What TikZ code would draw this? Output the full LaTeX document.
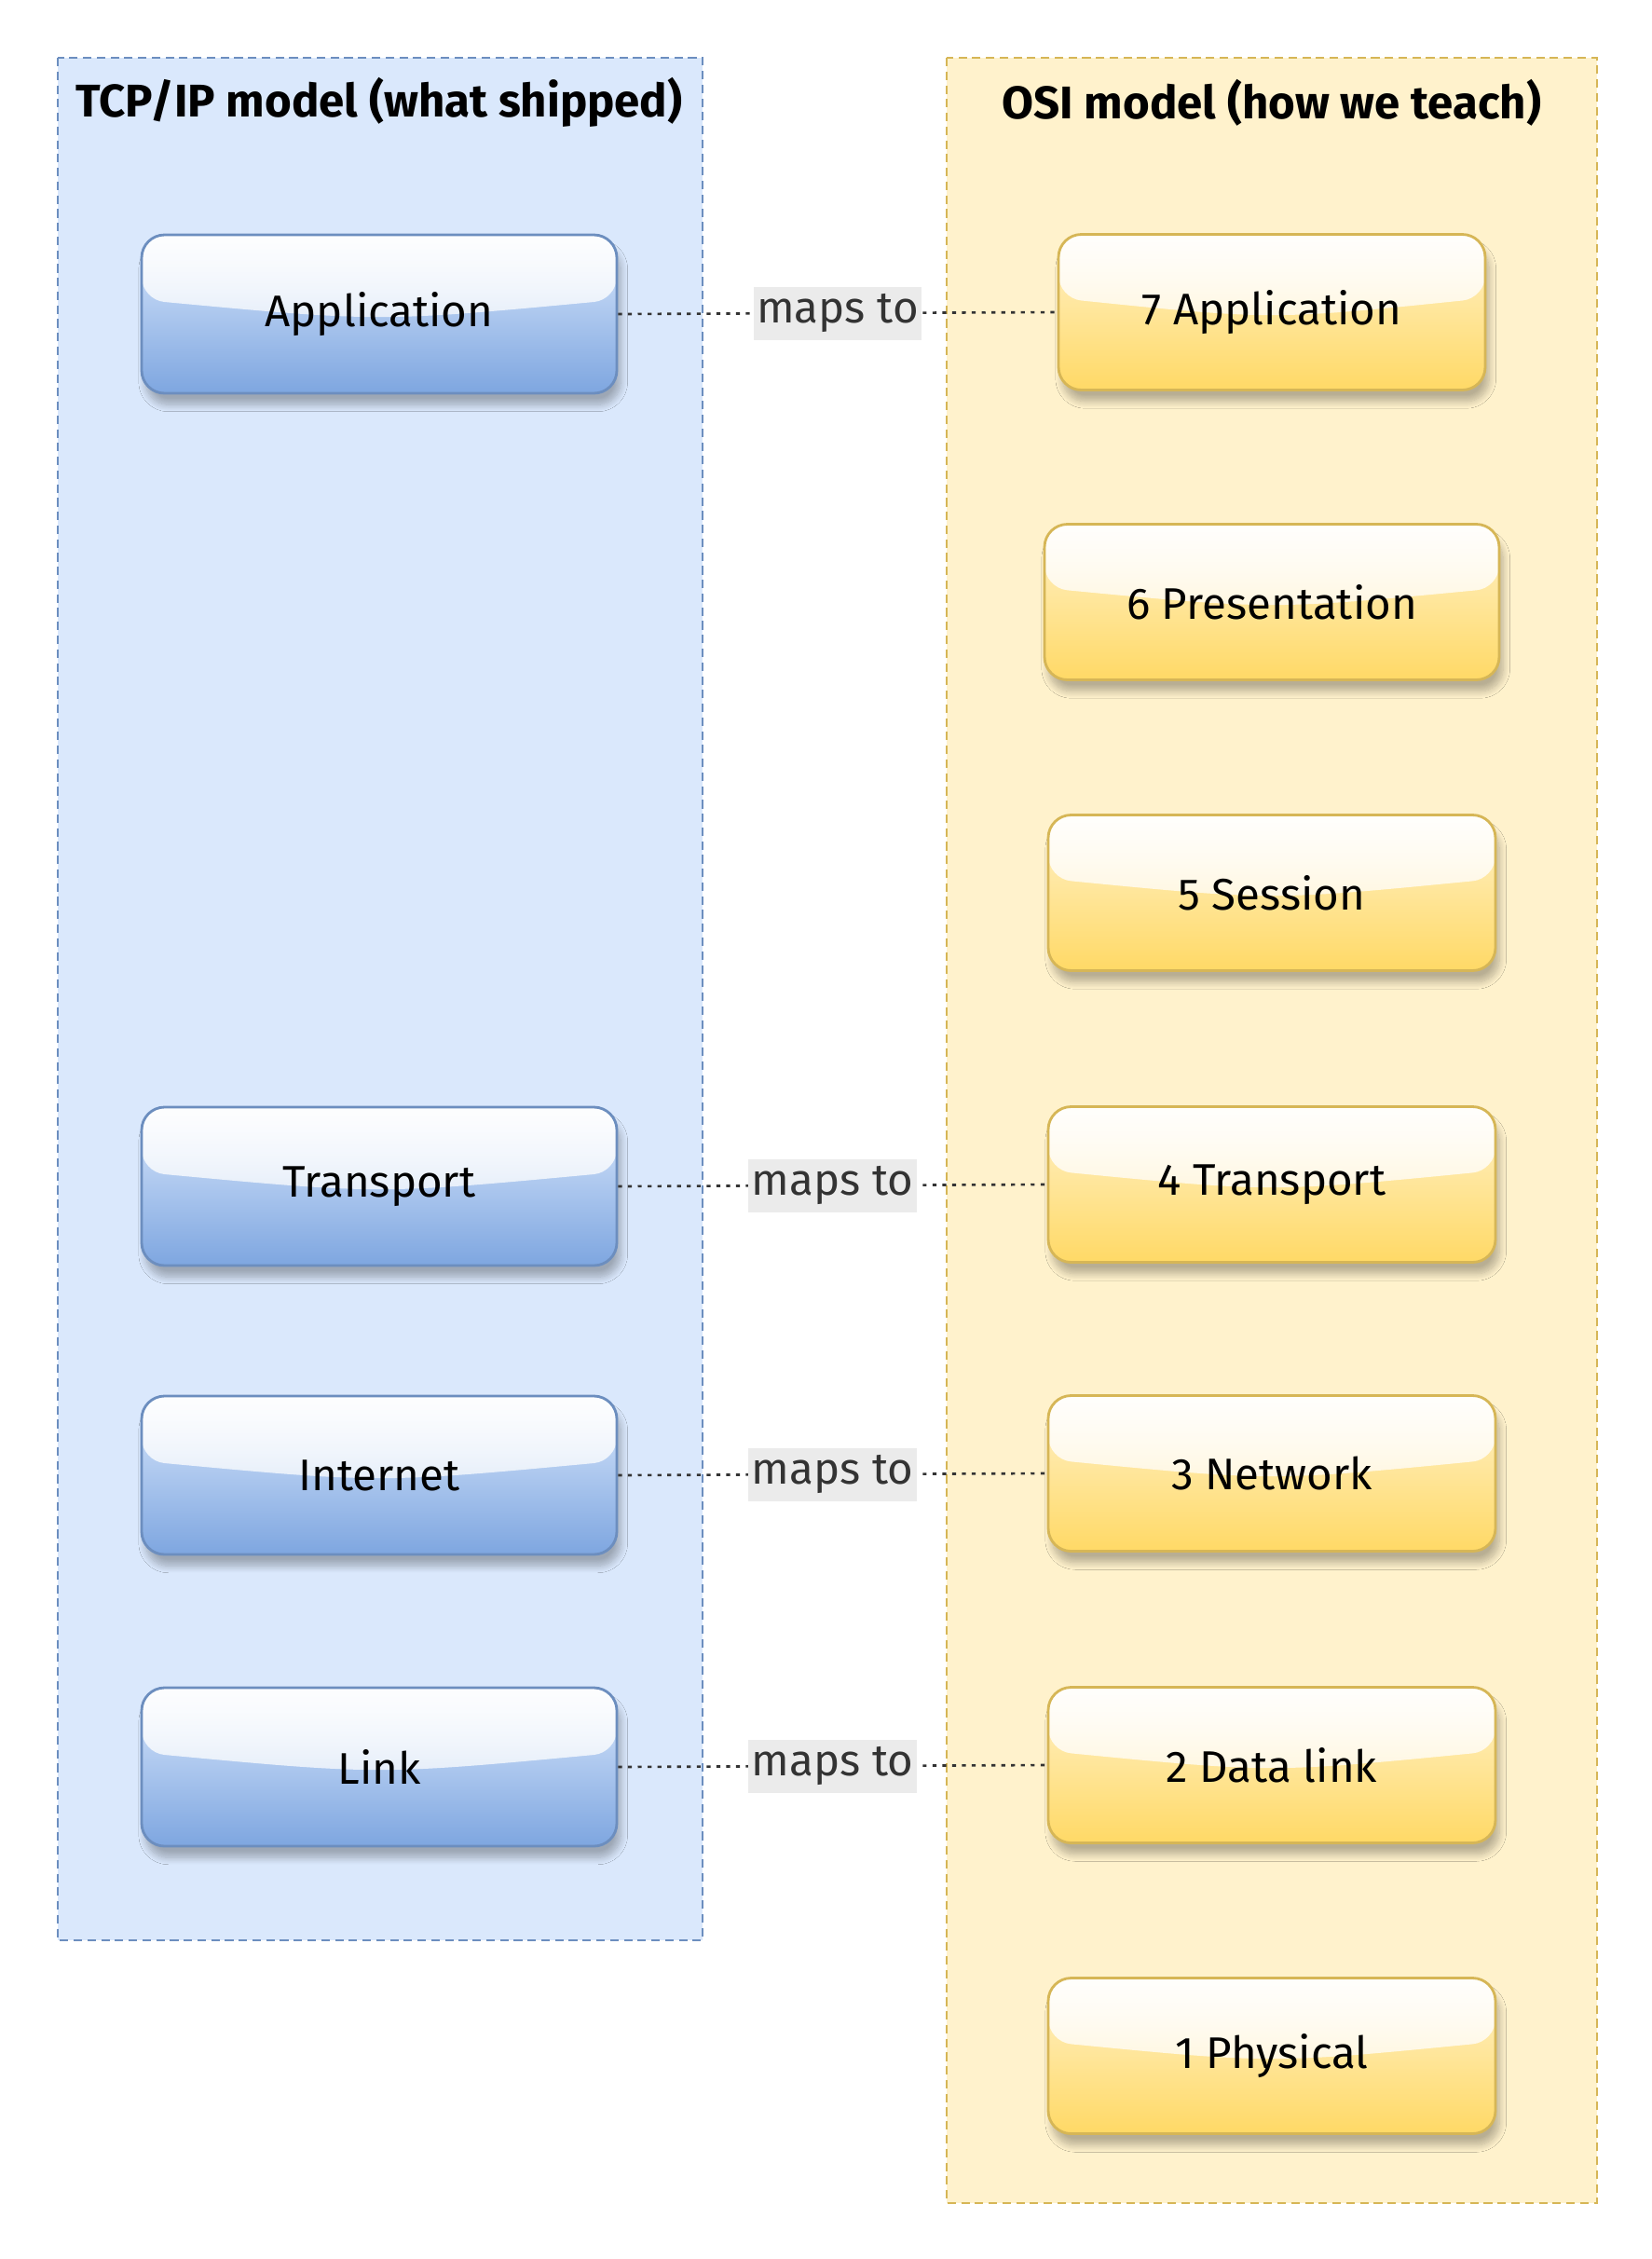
\documentclass[tikz,border=0pt]{standalone}
\usepackage{fontspec}
\setmainfont{Fira Sans}
\usetikzlibrary{calc,fadings,shadows.blur}
\definecolor{tcpfill}{HTML}{DAE8FC}
\definecolor{tcpdark}{HTML}{7EA6E0}
\definecolor{tcpline}{HTML}{6C8EBF}
\definecolor{osifill}{HTML}{FFF2CC}
\definecolor{osidark}{HTML}{FFD966}
\definecolor{osiline}{HTML}{D6B656}
\definecolor{maptext}{HTML}{333333}
\definecolor{mapback}{HTML}{EBEBEB}
\tikzfading[name=glassfade, top color=transparent!5, bottom color=transparent!50]
\tikzset{
  layerbox/.style={rounded corners=7pt, line width=0.8pt,
    font=\fontsize{13.5}{16}\selectfont,
    blur shadow={shadow xshift=1.2pt, shadow yshift=-3.5pt, shadow blur steps=10, shadow opacity=28},
    path picture={
      \fill[white, path fading=glassfade]
        let \p1=(path picture bounding box.north west),
            \p2=(path picture bounding box.south east) in
        (\x1,\y1) -- (\x1,{\y1+0.41*(\y2-\y1)})
        .. controls ({0.5*(\x1+\x2)},{\y1+0.55*(\y2-\y1)}) .. (\x2,{\y1+0.41*(\y2-\y1)})
        -- (\x2,\y1) -- cycle;
    }},
  tcpbox/.style={layerbox, draw=tcpline, top color=tcpfill, bottom color=tcpdark,
    minimum width=5.1cm, minimum height=1.7cm},
  osibox/.style={layerbox, draw=osiline, top color=osifill, bottom color=osidark,
    minimum width=4.8cm, minimum height=1.67cm},
  group/.style={dashed, dash pattern=on 2.6pt off 1.6pt, line width=0.8pt},
  grouptitle/.style={font=\fontsize{14}{16}\selectfont\bfseries},
  mapline/.style={maptext, line width=0.75pt, dash pattern=on 1.2pt off 1.8pt},
  maplabel/.style={fill=mapback, text=maptext, inner xsep=1pt, inner ysep=0pt,
    minimum height=0.57cm, font=\fontsize{13.5}{16}\selectfont},
}
\begin{document}
\begin{tikzpicture}
  \useasboundingbox[fill=white] (0,0) rectangle (17.73,-24.24);
  % the two stacks
  \draw[group, fill=tcpfill, draw=tcpline] (0.62,-0.62) rectangle (7.54,-20.82);
  \draw[group, fill=osifill, draw=osiline] (10.16,-0.62) rectangle (17.14,-23.64);
  \node[grouptitle] (tcptitle) at (4.07,-1.10) {TCP/IP model (what shipped)};
  \node[grouptitle] (osititle) at (13.65,-1.10) {OSI model (how we teach)};

  % TCP/IP layers
  \node[tcpbox] (tcpapp) at (4.07,-3.37) {Application};
  \node[tcpbox] (tcptrans) at (4.07,-12.73) {Transport};
  \node[tcpbox] (tcpnet) at (4.07,-15.83) {Internet};
  \node[tcpbox] (tcplink) at (4.07,-18.96) {Link};

  % OSI layers
  \node[osibox, minimum width=4.58cm] (osi7) at (13.65,-3.35) {7 Application};
  \node[osibox, minimum width=4.88cm] (osi6) at (13.65,-6.46) {6 Presentation};
  \node[osibox] (osi5) at (13.65,-9.58) {5 Session};
  \node[osibox] (osi4) at (13.65,-12.71) {4 Transport};
  \node[osibox] (osi3) at (13.65,-15.81) {3 Network};
  \node[osibox] (osi2) at (13.65,-18.94) {2 Data link};
  \node[osibox] (osi1) at (13.65,-22.06) {1 Physical};

  % mappings
  \draw[mapline] (tcpapp.east) -- node[maplabel]{maps to} (osi7.west);
  \draw[mapline] (tcptrans.east) -- node[maplabel]{maps to} (osi4.west);
  \draw[mapline] (tcpnet.east) -- node[maplabel]{maps to} (osi3.west);
  \draw[mapline] (tcplink.east) -- node[maplabel]{maps to} (osi2.west);
\end{tikzpicture}
\end{document}
